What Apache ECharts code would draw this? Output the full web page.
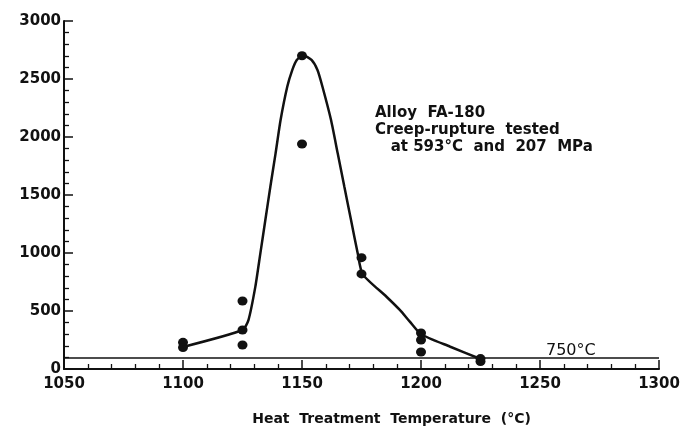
<!DOCTYPE html>
<html>
<head>
<meta charset="utf-8">
<script src="https://cdn.jsdelivr.net/npm/echarts@6/dist/echarts.min.js"></script>
<style>
  html, body { margin: 0; padding: 0; background: #fff; }
  #chart { width: 686px; height: 438px; }
</style>
</head>
<body>
<div id="chart"></div>
<script>
// measured points (heat treatment temp, rupture life)
const pointTemps = [1100, 1100, 1125, 1125, 1125, 1150, 1150, 1175, 1175, 1200, 1200, 1200, 1225, 1225];
const pointLives = [230, 185, 586, 336, 207, 2700, 1940, 960, 820, 310, 250, 147, 90, 65];

// hand-drawn trend curve
const curveTemps = [1100, 1125, 1127.5, 1130.4, 1132.5, 1134.6, 1136.7, 1138.9, 1141.0, 1143.8, 1145.9, 1147.8, 1150.5,
  1154.0, 1156.5, 1158.6, 1162.2, 1165.0, 1167.8, 1170.6, 1173.4, 1175.5, 1185.5, 1191.1, 1195.3, 1200, 1212.3, 1225];
const curveLives = [190, 336, 422, 710, 997, 1284, 1571, 1859, 2146, 2433, 2577, 2664, 2705,
  2664, 2577, 2433, 2146, 1859, 1571, 1284, 997, 816, 623, 509, 408, 300, 192, 86];

// 750 C reference line
const refTemps = [1050, 1300];
const refLives = [95, 95];

const xTicks = [1050, 1100, 1150, 1200, 1250, 1300];
const yTicks = [0, 500, 1000, 1500, 2000, 2500, 3000];

const font = "DejaVu Sans";
const ink = "#111";

const chart = echarts.init(document.getElementById("chart"));
chart.setOption({
  backgroundColor: "#fff",
  animation: false,
  grid: { left: 64, right: 27, top: 21, bottom: 69 },
  xAxis: {
    type: "value",
    min: xTicks[0],
    max: xTicks[xTicks.length - 1],
    interval: 50,
    name: "Heat  Treatment  Temperature  (°C)",
    nameLocation: "middle",
    nameGap: 43,
    nameTextStyle: {
      color: ink,
      fontFamily: font,
      fontWeight: "bold",
      fontSize: 14,
      padding: [0, 0, 0, 60],
    },
    axisLine: { lineStyle: { color: ink, width: 2 } },
    axisTick: { inside: true, length: 9, lineStyle: { color: ink, width: 1.5 } },
    minorTick: { show: true, splitNumber: 5, length: 5, lineStyle: { color: ink, width: 1.3 } },
    axisLabel: {
      color: ink, fontFamily: font, fontWeight: "bold", fontSize: 15, margin: 8,
      formatter: (v) => String(v),
    },
    splitLine: { show: false },
  },
  yAxis: {
    type: "value",
    min: yTicks[0],
    max: yTicks[yTicks.length - 1],
    interval: 500,
    axisLine: { show: true, lineStyle: { color: ink, width: 2 } },
    axisTick: { show: true, inside: true, length: 9, lineStyle: { color: ink, width: 1.5 } },
    minorTick: { show: true, splitNumber: 5, length: 5, lineStyle: { color: ink, width: 1.3 } },
    axisLabel: {
      color: ink, fontFamily: font, fontWeight: "bold", fontSize: 15, margin: 3,
      formatter: (v) => String(v),
    },
    splitLine: { show: false },
  },
  series: [
    {
      type: "line",
      data: refTemps.map((t, i) => [t, refLives[i]]),
      showSymbol: false,
      lineStyle: { color: ink, width: 1.5 },
    },
    {
      type: "line",
      data: curveTemps.map((t, i) => [t, curveLives[i]]),
      showSymbol: false,
      smooth: 0.2,
      lineStyle: { color: ink, width: 2.5 },
    },
    {
      type: "scatter",
      data: pointTemps.map((t, i) => [t, pointLives[i]]),
      symbol: "circle",
      symbolSize: [10, 9],
      itemStyle: { color: ink, opacity: 1 },
    },
  ],
  graphic: [
    {
      type: "text",
      left: 375,
      top: 105,
      style: {
        text: "Alloy  FA-180\nCreep-rupture  tested\n   at 593°C  and  207  MPa",
        font: "bold 15px " + font,
        fill: ink,
        lineHeight: 17,
      },
    },
    {
      type: "text",
      left: 546,
      top: 343,
      style: { text: "750°C", font: "16px " + font, fill: ink },
    },
  ],
});
</script>
</body>
</html>
